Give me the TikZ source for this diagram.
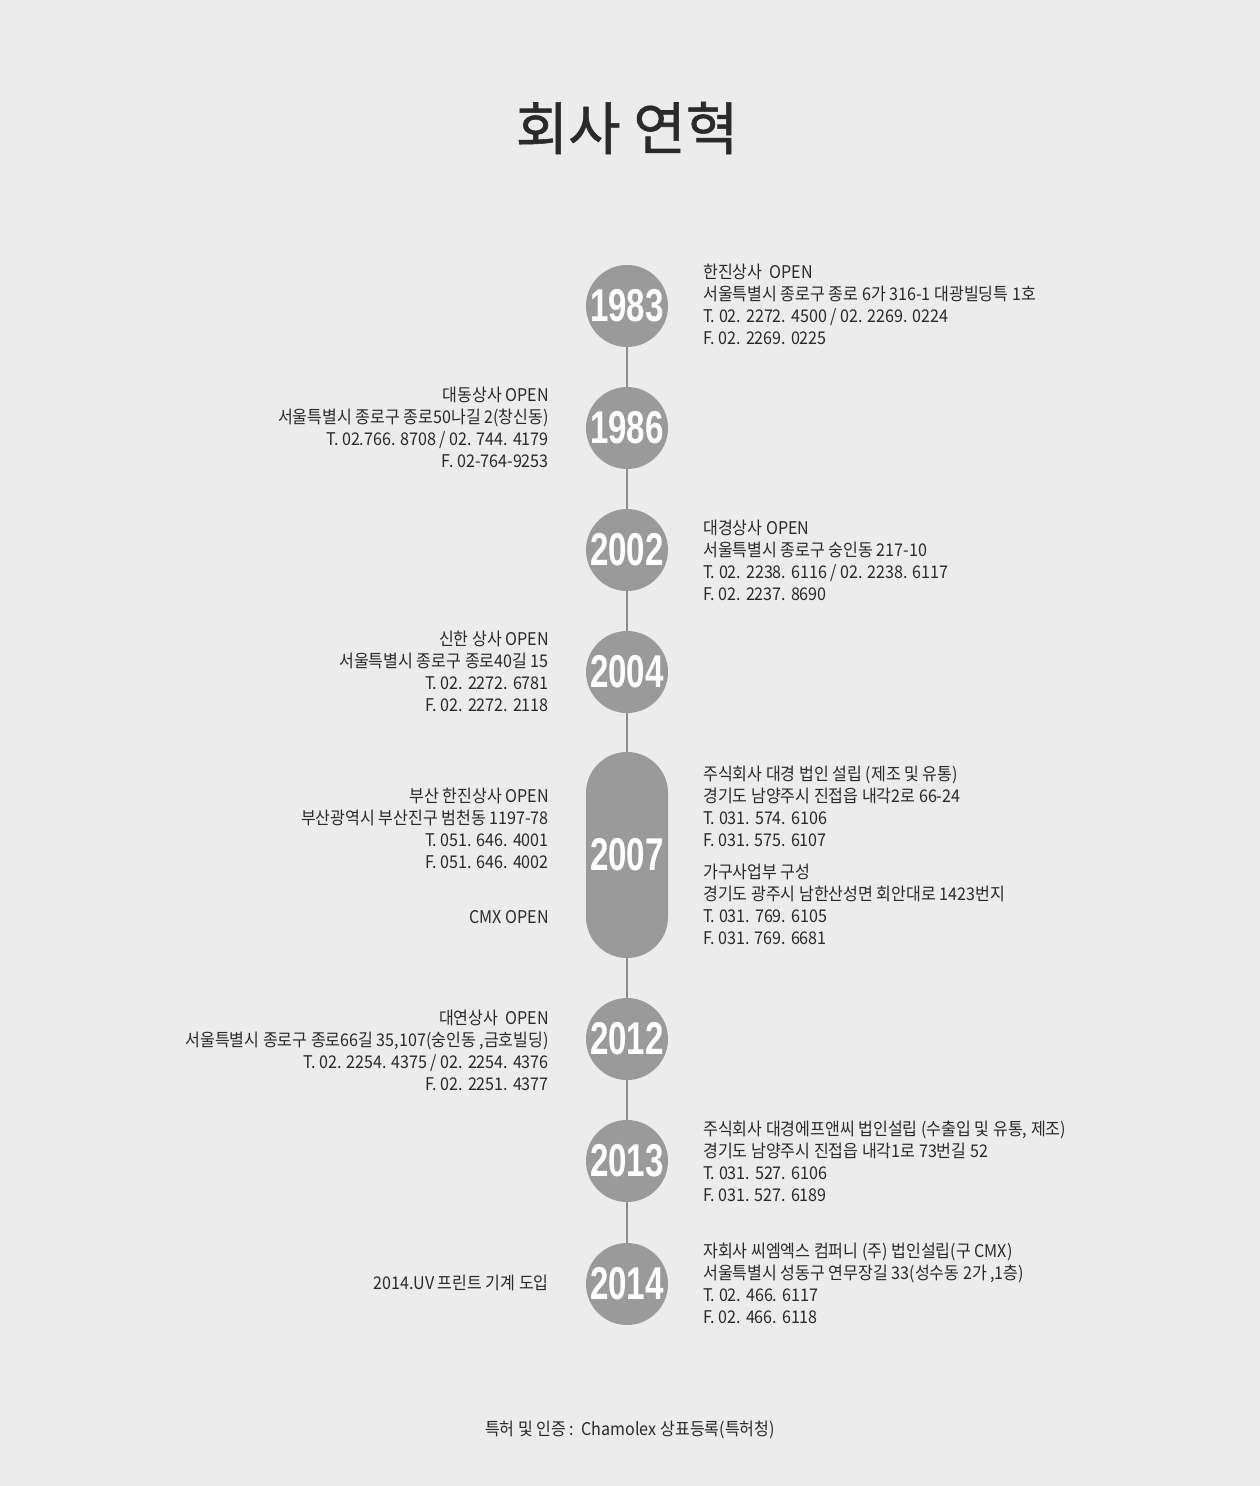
\documentclass[tikz,border=0pt]{standalone}
\usepackage{fontspec}
\newfontfamily\kr[FakeStretch=0.92]{Noto Sans CJK KR}
\newfontfamily\krtitle[FakeBold=1]{Noto Sans CJK KR}
\newfontfamily\yr[FakeStretch=0.72]{Liberation Sans}
\definecolor{bg}{HTML}{ECECEC}
\definecolor{circ}{HTML}{9A9A9A}
\definecolor{linec}{HTML}{8C8C8C}
\definecolor{txt}{HTML}{2A2A2A}
\begin{document}
\begin{tikzpicture}[x=1pt,y=-1pt,
  yearc/.style={circle, fill=circ, minimum size=82pt, inner sep=0pt,
    font=\yr\bfseries\fontsize{46}{46}\selectfont, text=white},
  yearpill/.style={rectangle, rounded corners=41pt, fill=circ, minimum width=82pt,
    minimum height=206pt, inner sep=0pt,
    font=\yr\bfseries\fontsize{46}{46}\selectfont, text=white},
  conn/.style={draw=linec, line width=1.5pt},
  body/.style={inner sep=0pt, text=txt, font=\kr\fontsize{17.5}{21.8}\selectfont},
  rtxt/.style={body, anchor=north west, align=left},
  ltxt/.style={body, anchor=north east, align=right}]
\fill[bg] (0,0) rectangle (1260,1486);
\useasboundingbox (0,0) rectangle (1260,1486);

\node[text=txt, font=\krtitle\fontsize{57}{57}\selectfont] (title) at (627,128) {회사 연혁};

\node[yearc] (y83) at (627,306) {1983};
\node[yearc] (y86) at (627,428) {1986};
\node[yearc] (y02) at (627,550) {2002};
\node[yearc] (y04) at (627,672) {2004};
\node[yearpill] (y07) at (627,855) {2007};
\node[yearc] (y12) at (627,1039) {2012};
\node[yearc] (y13) at (627,1161) {2013};
\node[yearc] (y14) at (627,1284) {2014};

\draw[conn] (y83) -- (y86);
\draw[conn] (y86) -- (y02);
\draw[conn] (y02) -- (y04);
\draw[conn] (y04) -- (y07);
\draw[conn] (y07) -- (y12);
\draw[conn] (y12) -- (y13);
\draw[conn] (y13) -- (y14);

\node[rtxt] (t83) at (703,263.3) {\strut 한진상사\ \ OPEN\\서울특별시 종로구 종로 6가 316-1 대광빌딩특 1호\\T. 02. 2272. 4500 / 02. 2269. 0224\\F. 02. 2269. 0225};
\node[ltxt] (t86) at (549,386.3) {\strut 대동상사 OPEN\\서울특별시 종로구 종로50나길 2(창신동)\\T. 02.766. 8708 / 02. 744. 4179\\F. 02-764-9253};
\node[rtxt] (t02) at (703,519.3) {\strut 대경상사 OPEN\\서울특별시 종로구 숭인동 217-10\\T. 02. 2238. 6116 / 02. 2238. 6117\\F. 02. 2237. 8690};
\node[ltxt] (t04) at (549,630.3) {\strut 신한 상사 OPEN\\서울특별시 종로구 종로40길 15\\T. 02. 2272. 6781\\F. 02. 2272. 2118};
\node[ltxt] (t07a) at (549,787.3) {\strut 부산 한진상사 OPEN\\부산광역시 부산진구 범천동 1197-78\\T. 051. 646. 4001\\F. 051. 646. 4002};
\node[ltxt] (t07b) at (549,908.3) {\strut CMX OPEN};
\node[rtxt] (t07c) at (703,765.3) {\strut 주식회사 대경 법인 설립 (제조 및 유통)\\경기도 남양주시 진접읍 내각2로 66-24\\T. 031. 574. 6106\\F. 031. 575. 6107\\[11pt]가구사업부 구성\\경기도 광주시 남한산성면 회안대로 1423번지\\T. 031. 769. 6105\\F. 031. 769. 6681};
\node[ltxt] (t12) at (549,1009.3) {\strut 대연상사\ \ OPEN\\서울특별시 종로구 종로66길 35,107(숭인동 ,금호빌딩)\\T. 02. 2254. 4375 / 02. 2254. 4376\\F. 02. 2251. 4377};
\node[rtxt] (t13) at (703,1120.3) {\strut 주식회사 대경에프앤씨 법인설립 (수출입 및 유통, 제조)\\경기도 남양주시 진접읍 내각1로 73번길 52\\T. 031. 527. 6106\\F. 031. 527. 6189};
\node[ltxt] (t14a) at (549,1274.3) {\strut 2014.UV 프린트 기계 도입};
\node[rtxt] (t14b) at (703,1242.3) {\strut 자회사 씨엠엑스 컴퍼니 (주) 법인설립(구 CMX)\\서울특별시 성동구 연무장길 33(성수동 2가 ,1층)\\T. 02. 466. 6117\\F. 02. 466. 6118};

\node[body] (foot) at (630,1430) {특허 및 인증 :\ \ Chamolex 상표등록(특허청)};
\end{tikzpicture}
\end{document}
